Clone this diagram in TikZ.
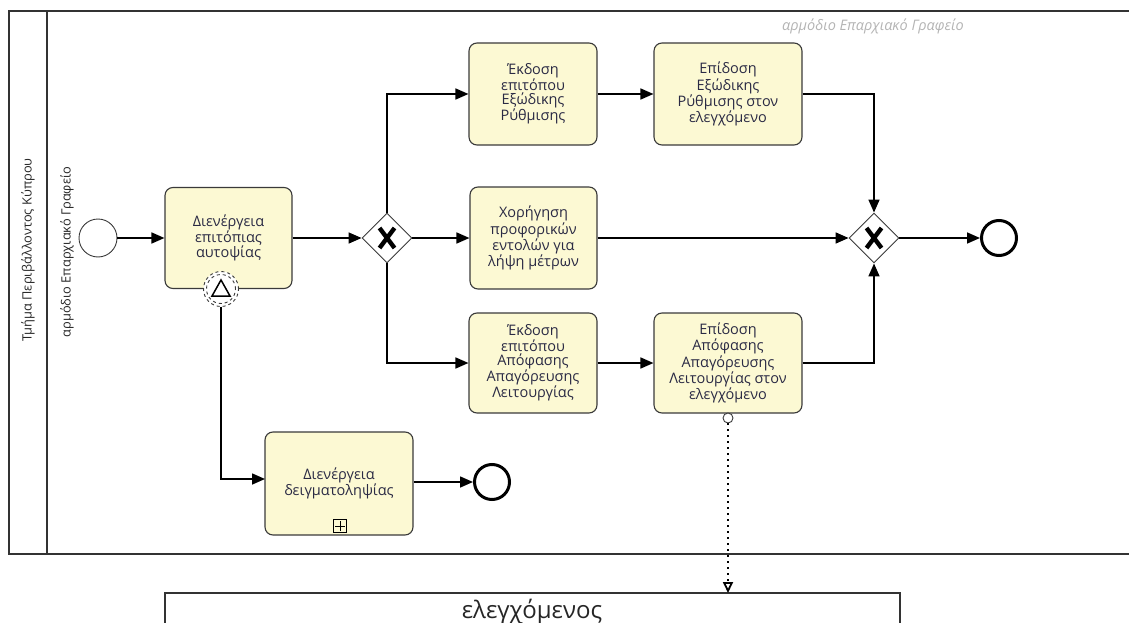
\documentclass[tikz,border=0pt]{standalone}
\usepackage{fontspec}
\setmainfont{Open Sans}
\usetikzlibrary{arrows.meta,shapes.geometric}
\definecolor{taskfill}{HTML}{FCF9D3}
\definecolor{taskline}{HTML}{3A3A3A}
\definecolor{tasktext}{HTML}{2A2A44}
\definecolor{poolline}{HTML}{333333}
\definecolor{faint}{HTML}{B4B4B4}
\tikzset{
  task/.style={draw=taskline, line width=1.1pt, rounded corners=8pt, fill=taskfill,
    inner sep=0pt, align=center, text=tasktext, font=\fontsize{14.5}{13.6}\selectfont},
  flow/.style={line width=1.6pt, -{Triangle[length=13pt,width=11pt]}},
  gw/.style={diamond, draw=taskline, line width=0.9pt, fill=white, minimum width=50pt, minimum height=50pt, inner sep=0pt},
  startev/.style={circle, draw=taskline, line width=0.9pt, fill=white, minimum size=38pt, inner sep=0pt},
  endev/.style={circle, draw=black, line width=3pt, fill=white, minimum size=35pt, inner sep=0pt},
  lbl/.style={font=\fontsize{12.8}{15}\selectfont, text=black!85},
}
\begin{document}
\begin{tikzpicture}[x=1pt,y=-1pt]
\useasboundingbox (0,0) rectangle (1129,623);
% pool
\draw[poolline, line width=1.3pt] (1135,11) -- (9,11) -- (9,554) -- (1135,554);
\draw[poolline, line width=1.3pt] (47,11) -- (47,554);
\node[lbl, rotate=90] (poolname) at (28,250) {Τμήμα Περιβάλλοντος Κύπρου};
\node[lbl, rotate=90] (lanename) at (67,252) {αρμόδιο Επαρχιακό Γραφείο};
\node[text=faint, font=\fontsize{14.5}{16}\selectfont\itshape] (lanetop) at (873,26) {αρμόδιο Επαρχιακό Γραφείο};

% events and gateways
\node[startev] (start) at (98,238) {};
\node[task, minimum width=127pt, minimum height=101pt] (t1) at (228.5,238) {Διενέργεια\\επιτόπιας\\αυτοψίας};
\node[gw] (g1) at (387,238) {};
\node[task, minimum width=128pt, minimum height=102pt] (t2) at (533,94) {Έκδοση\\επιτόπου\\Εξώδικης\\Ρύθμισης};
\node[task, minimum width=148pt, minimum height=102pt] (t3) at (728,94) {Επίδοση\\Εξώδικης\\Ρύθμισης στον\\ελεγχόμενο};
\node[task, minimum width=127pt, minimum height=102pt] (t4) at (533.5,238) {Χορήγηση\\προφορικών\\εντολών για\\λήψη μέτρων};
\node[task, minimum width=128pt, minimum height=100pt] (t5) at (533,363) {Έκδοση\\επιτόπου\\Απόφασης\\Απαγόρευσης\\Λειτουργίας};
\node[task, minimum width=148pt, minimum height=100pt] (t6) at (728,363) {Επίδοση\\Απόφασης\\Απαγόρευσης\\Λειτουργίας στον\\ελεγχόμενο};
\node[gw] (g2) at (874,238) {};
\node[endev] (end1) at (999,238) {};
\node[task, minimum width=148pt, minimum height=103pt] (sub) at (339,483.5) {Διενέργεια\\δειγματοληψίας};
\node[endev] (end2) at (492,482) {};

% gateway X markers
\foreach \g in {g1,g2}{
  \draw[line width=4.4pt] ([shift={(-7.5,-10)}]\g.center) -- ([shift={(7.5,10)}]\g.center);
  \draw[line width=4.4pt] ([shift={(-7.5,10)}]\g.center) -- ([shift={(7.5,-10)}]\g.center);
}

% boundary event
\node[circle, draw=taskline, dashed, line width=0.9pt, fill=white, minimum size=35pt, inner sep=0pt] (bev) at (221,289) {};
\node[circle, draw=taskline, dashed, line width=0.9pt, minimum size=29pt, inner sep=0pt] (bevin) at (221,289) {};
\draw[line width=1.5pt, line join=miter] ([shift={(0,-9)}]bev.center) -- ([shift={(9,7)}]bev.center) -- ([shift={(-9,7)}]bev.center) -- cycle;

% subprocess marker
\node[draw=black, line width=0.9pt, minimum size=13pt, inner sep=0pt, fill=taskfill] (plus) at (340,526) {};
\draw[line width=0.9pt] ([yshift=-5pt]plus.center) -- ([yshift=5pt]plus.center);
\draw[line width=0.9pt] ([xshift=-5pt]plus.center) -- ([xshift=5pt]plus.center);

% receiver pool
\draw[poolline, line width=1.3pt] (165,630) -- (165,593) -- (900,593) -- (900,630);
\node[font=\fontsize{24}{26}\selectfont, text=black!85] (ctrl) at (532,612) {ελεγχόμενος};
\coordinate (ctrltop) at (728,593);

% sequence flows
\draw[flow] (start) -- (t1);
\draw[flow] (t1) -- (g1);
\draw[flow] (g1.north) |- (t2.west);
\draw[flow] (g1) -- (t4);
\draw[flow] (g1.south) |- (t5.west);
\draw[flow] (t2) -- (t3);
\draw[flow] (t5) -- (t6);
\draw[flow] (t3.east) -| (g2.north);
\draw[flow] (t4) -- (g2);
\draw[flow] (t6.east) -| (g2.south);
\draw[flow] (g2) -- (end1);
\coordinate (subin) at (265,479);
\draw[flow] (bev.south) |- (subin);
\draw[flow] (sub.east |- end2) -- (end2);

% message flow
\node[circle, draw=taskline, line width=0.9pt, fill=white, minimum size=10pt, inner sep=0pt] (msgsrc) at (728,418) {};
\draw[line width=1.8pt, dash pattern=on 2pt off 4pt, -{Triangle[open,length=11pt,width=10pt]}] (msgsrc) -- (ctrltop);
\end{tikzpicture}
\end{document}
